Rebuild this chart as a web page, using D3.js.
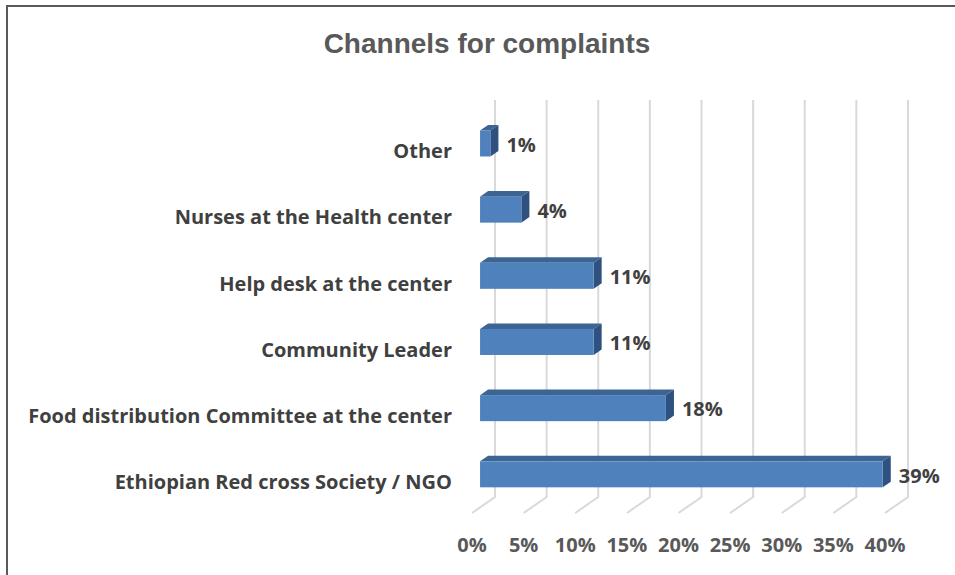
<!DOCTYPE html>
<html>
<head>
<meta charset="utf-8">
<script src="https://cdn.jsdelivr.net/npm/d3@7"></script>
<style>
  html, body { margin: 0; padding: 0; background: #fff; }
  svg { display: block; }
</style>
</head>
<body>
<svg id="chart" width="955" height="575"></svg>
<script>
// Channels used to lodge complaints, share of respondents (%)
const categories = [
  "Other",
  "Nurses at the Health center",
  "Help desk at the center",
  "Community Leader",
  "Food distribution Committee at the center",
  "Ethiopian Red cross Society / NGO"
];
const values = [1, 4, 11, 11, 18, 39];
const tickValues = [0, 5, 10, 15, 20, 25, 30, 35, 40];

const LABEL_FONT = "'Open Sans', Lato, sans-serif";
const svg = d3.select("#chart");

// frame around the chart area
svg.append("rect")
  .attr("x", 7).attr("y", 6)
  .attr("width", 970).attr("height", 600)
  .attr("fill", "none")
  .attr("stroke", "#5a5a5a")
  .attr("stroke-width", 2);

// title
svg.append("text")
  .attr("x", 487).attr("y", 53)
  .attr("text-anchor", "middle")
  .attr("font-family", "'Liberation Sans', Arial, sans-serif")
  .attr("font-weight", "bold")
  .attr("font-size", 28)
  .attr("fill", "#595959")
  .text("Channels for complaints");

// 3D box geometry: front plane scales plus a depth offset toward the back wall
const x = d3.scaleLinear().domain([0, 40]).range([472, 885]);
const y = d3.scaleBand().domain(categories).range([116, 513])
  .paddingInner(0.607).paddingOuter(0.3035);
const DEPTH_X = 23, DEPTH_Y = -16;
const barZ0 = 0.35, barZ1 = 0.70;
const wallTop = y.range()[0] + DEPTH_Y;
const floorY = y.range()[1];

// gridlines: vertical on the back wall, then diagonal across the floor
const grid = svg.append("g").attr("fill", "none")
  .attr("stroke", "#d9d9d9").attr("stroke-width", 2);
tickValues.forEach(t => {
  const xb = x(t) + DEPTH_X;
  grid.append("path")
    .attr("d", `M${xb},${wallTop}L${xb},${floorY + DEPTH_Y}L${x(t)},${floorY}`);
});

// bars: front, top and right faces
const bars = svg.append("g");
categories.forEach((c, i) => {
  const v = values[i];
  const fx0 = x(0) + DEPTH_X * barZ0, fx1 = x(v) + DEPTH_X * barZ0;
  const fy0 = y(c) + DEPTH_Y * barZ0, fy1 = fy0 + y.bandwidth();
  const dx = DEPTH_X * (barZ1 - barZ0), dy = DEPTH_Y * (barZ1 - barZ0);
  // top face
  bars.append("path")
    .attr("d", `M${fx0},${fy0}L${fx0 + dx},${fy0 + dy}L${fx1 + dx},${fy0 + dy}L${fx1},${fy0}Z`)
    .attr("fill", "#3d6594");
  // right face
  bars.append("path")
    .attr("d", `M${fx1},${fy0}L${fx1 + dx},${fy0 + dy}L${fx1 + dx},${fy1 + dy}L${fx1},${fy1}Z`)
    .attr("fill", "#2f5180");
  // front face
  bars.append("rect")
    .attr("x", fx0).attr("y", fy0)
    .attr("width", fx1 - fx0).attr("height", y.bandwidth())
    .attr("fill", "#4f81bd");

  // value label
  svg.append("text")
    .attr("x", fx1 + dx + 8)
    .attr("y", fy0 + y.bandwidth() / 2 + 1)
    .attr("dy", "0.36em")
    .attr("font-family", LABEL_FONT)
    .attr("font-weight", "bold")
    .attr("font-size", 20)
    .attr("fill", "#404040")
    .text(v + "%");
});

// category labels
svg.append("g").selectAll("text").data(categories).join("text")
  .attr("x", 452)
  .attr("y", d => y(d) + y.bandwidth() / 2 + 2)
  .attr("dy", "0.36em")
  .attr("text-anchor", "end")
  .attr("font-family", LABEL_FONT)
  .attr("font-weight", "bold")
  .attr("font-size", 20)
  .attr("fill", "#404040")
  .text(d => d);

// value axis tick labels along the front edge of the floor
svg.append("g").selectAll("text").data(tickValues).join("text")
  .attr("x", d => x(d))
  .attr("y", 545)
  .attr("dy", "0.36em")
  .attr("text-anchor", "middle")
  .attr("font-family", LABEL_FONT)
  .attr("font-weight", "bold")
  .attr("font-size", 20)
  .attr("fill", "#595959")
  .text(d => d + "%");
</script>
</body>
</html>
